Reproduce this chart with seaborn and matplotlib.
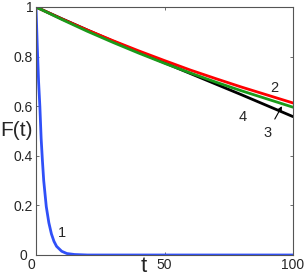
import numpy as np
import pandas as pd
import matplotlib
matplotlib.use("Agg")
import matplotlib.pyplot as plt
import matplotlib.transforms as mtransforms
import seaborn as sns

# Curve 1 (fast decay)
t1 = [0, 0.5, 1, 1.5, 2, 2.5, 3, 4, 5, 6, 7, 8, 10, 12, 15, 20, 40, 60, 80, 100]
f1 = [1.0, 0.84, 0.70, 0.60, 0.47, 0.38, 0.30, 0.195, 0.13, 0.085, 0.055, 0.035,
      0.015, 0.006, 0.002, 0.0, 0.0, 0.0, 0.0, 0.0]

# Curves 2, 3, 4 (slow decay)
t_slow = [0, 10, 20, 30, 40, 50, 60, 70, 80, 90, 100]
f2 = [1.0, 0.952, 0.907, 0.864, 0.823, 0.784, 0.746, 0.711, 0.677, 0.645, 0.613]
f3 = [1.0, 0.950, 0.902, 0.857, 0.814, 0.773, 0.734, 0.697, 0.662, 0.629, 0.596]
f4 = [1.0, 0.953, 0.907, 0.862, 0.818, 0.775, 0.732, 0.689, 0.646, 0.602, 0.558]

x_ticks = [0, 50, 100]
y_ticks = [0, 0.2, 0.4, 0.6, 0.8, 1]
x_ticklabels = ["0", "50", "100"]
y_ticklabels = ["0", "0.2", "0.4", "0.6", "0.8", "1"]

df = pd.concat([
    pd.DataFrame({"t": t1, "F": f1, "curve": "1"}),
    pd.DataFrame({"t": t_slow, "F": f4, "curve": "4"}),
    pd.DataFrame({"t": t_slow, "F": f2, "curve": "2"}),
    pd.DataFrame({"t": t_slow, "F": f3, "curve": "3"}),
], ignore_index=True)

sns.set_style("ticks")
plt.rcParams["font.family"] = ["Liberation Sans", "DejaVu Sans"]

fig = plt.figure(figsize=(3.07, 2.77), dpi=100)
ax = fig.add_axes([36 / 307, 22 / 277, 257 / 307, 248 / 277])

palette = {"1": "#3050f8", "4": "#000000", "2": "#ff0000", "3": "#1a9a1a"}
sns.lineplot(data=df, x="t", y="F", hue="curve", hue_order=["1", "4", "2", "3"],
             palette=palette, legend=False, linewidth=2.0, ax=ax, sort=False,
             estimator=None)

ax.set_xlim(0, 100)
ax.set_ylim(0, 1)
ax.set_xticks(x_ticks)
ax.set_xticklabels(x_ticklabels)
ax.set_yticks(y_ticks)
ax.set_yticklabels(y_ticklabels)

ax.tick_params(direction="in", length=2.5, width=0.6, color="#555555",
               labelsize=10, pad=2, top=True, right=True)
for sp in ax.spines.values():
    sp.set_visible(True)
    sp.set_color("#555555")
    sp.set_linewidth(0.8)

ax.set_xlabel("t", fontsize=16)
ax.xaxis.set_label_coords((144 - 36) / 257, (255 - 272) / 248)
ax.xaxis.label.set_verticalalignment("baseline")
ax.set_ylabel("F(t)", fontsize=15, rotation=0, ha="center", va="center")
ax.yaxis.set_label_coords((16 - 36) / 257, (255 - 130) / 248)

# MATLAB-like offsets of the origin labels
xl = ax.get_xticklabels()[0]
xl.set_transform(xl.get_transform() + mtransforms.ScaledTranslation(-5 / 100, 0, fig.dpi_scale_trans))
yl = ax.get_yticklabels()[0]
yl.set_transform(yl.get_transform() + mtransforms.ScaledTranslation(-6 / 100, 0, fig.dpi_scale_trans))

ax.text(10.1, 0.089, "1", fontsize=10.5, ha="center", va="center")
ax.text(92.6, 0.673, "2", fontsize=10.5, ha="center", va="center")
ax.text(80.5, 0.556, "4", fontsize=10.5, ha="center", va="center")
ax.annotate("3", xy=(95.7, 0.60), xytext=(89.9, 0.492), fontsize=10.5,
            ha="center", va="center",
            arrowprops=dict(arrowstyle="-|>", color="black", lw=0.8,
                            mutation_scale=6, shrinkA=3, shrinkB=0))

fig.savefig("out.png", dpi=100)
